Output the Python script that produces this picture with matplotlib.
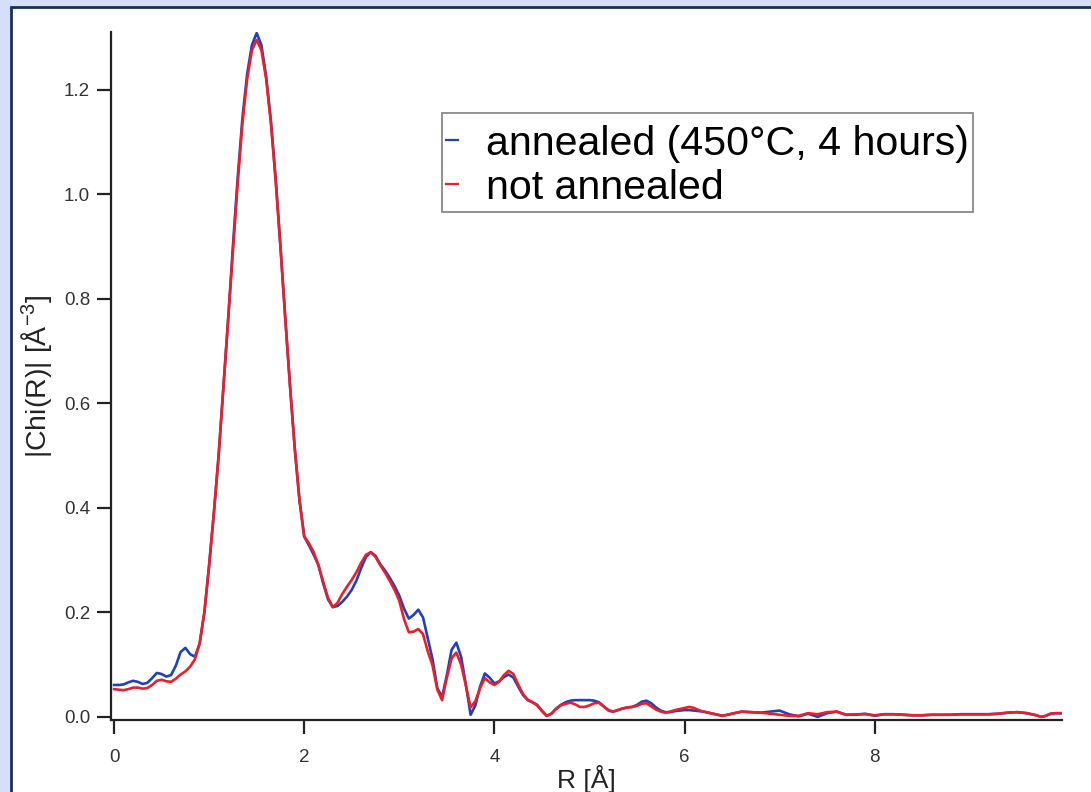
import matplotlib
matplotlib.use("Agg")
import matplotlib.pyplot as plt
from matplotlib.patches import Rectangle

# ---- data ----
R = [0.00, 0.05, 0.10, 0.15, 0.20, 0.25, 0.30, 0.35, 0.40, 0.45,
     0.50, 0.55, 0.60, 0.65, 0.70, 0.75, 0.80, 0.85, 0.90, 0.95,
     1.00, 1.05, 1.10, 1.15, 1.20, 1.25, 1.30, 1.35, 1.40, 1.45,
     1.50, 1.55, 1.60, 1.65, 1.70, 1.75, 1.80, 1.85, 1.90, 1.95,
     2.00, 2.05, 2.10, 2.15, 2.20, 2.25, 2.30, 2.35, 2.40, 2.45,
     2.50, 2.55, 2.60, 2.65, 2.70, 2.75, 2.80, 2.85, 2.90, 2.95,
     3.00, 3.05, 3.10, 3.15, 3.20, 3.25, 3.30, 3.35, 3.40, 3.45,
     3.50, 3.55, 3.60, 3.65, 3.70, 3.75, 3.80, 3.85, 3.90, 3.95,
     4.00, 4.05, 4.10, 4.15, 4.20, 4.25, 4.30, 4.35, 4.40, 4.45,
     4.50, 4.55, 4.60, 4.65, 4.70, 4.75, 4.80, 4.85, 4.90, 4.95,
     5.00, 5.05, 5.10, 5.15, 5.20, 5.25, 5.30, 5.35, 5.40, 5.45,
     5.50, 5.55, 5.60, 5.65, 5.70, 5.75, 5.80, 5.85, 5.90, 5.95,
     6.00, 6.05, 6.10, 6.15, 6.20, 6.30, 6.40, 6.50, 6.60, 6.70,
     6.80, 6.90, 7.00, 7.10, 7.20, 7.30, 7.40, 7.50, 7.60, 7.70,
     7.80, 7.90, 8.00, 8.10, 8.20, 8.30, 8.40, 8.50, 8.60, 8.70,
     8.80, 8.90, 9.00, 9.10, 9.20, 9.30, 9.40, 9.50, 9.60, 9.70,
     9.75, 9.80, 9.85, 9.90, 9.97]

annealed = [0.061, 0.061, 0.062, 0.066, 0.069, 0.067, 0.063, 0.065, 0.074, 0.084,
            0.082, 0.077, 0.080, 0.098, 0.124, 0.132, 0.120, 0.115, 0.140, 0.200,
            0.290, 0.390, 0.500, 0.630, 0.760, 0.900, 1.030, 1.145, 1.230, 1.285,
            1.308, 1.285, 1.225, 1.140, 1.030, 0.900, 0.765, 0.635, 0.515, 0.415,
            0.345, 0.328, 0.310, 0.290, 0.255, 0.225, 0.210, 0.212, 0.220, 0.230,
            0.243, 0.261, 0.285, 0.306, 0.315, 0.308, 0.292, 0.280, 0.266, 0.250,
            0.232, 0.207, 0.188, 0.195, 0.205, 0.190, 0.150, 0.110, 0.055, 0.038,
            0.080, 0.128, 0.142, 0.115, 0.062, 0.004, 0.022, 0.058, 0.083, 0.075,
            0.064, 0.068, 0.076, 0.081, 0.075, 0.058, 0.042, 0.032, 0.028, 0.023,
            0.012, 0.002, 0.006, 0.016, 0.023, 0.028, 0.031, 0.032, 0.032, 0.032,
            0.032, 0.031, 0.028, 0.020, 0.013, 0.010, 0.013, 0.016, 0.018, 0.019,
            0.023, 0.029, 0.031, 0.026, 0.018, 0.012, 0.009, 0.009, 0.011, 0.012,
            0.013, 0.013, 0.012, 0.011, 0.010, 0.006, 0.002, 0.006, 0.010, 0.009,
            0.008, 0.010, 0.012, 0.005, 0.001, 0.006, 0.000, 0.007, 0.010, 0.004,
            0.004, 0.006, 0.002, 0.005, 0.005, 0.004, 0.003, 0.003, 0.004, 0.004,
            0.004, 0.005, 0.005, 0.005, 0.005, 0.006, 0.008, 0.009, 0.007, 0.003,
            0.000, 0.002, 0.006, 0.007, 0.007]

not_annealed = [0.053, 0.052, 0.051, 0.053, 0.056, 0.056, 0.054, 0.055, 0.061, 0.069,
                0.071, 0.068, 0.067, 0.073, 0.081, 0.087, 0.096, 0.110, 0.140, 0.200,
                0.290, 0.390, 0.500, 0.630, 0.760, 0.890, 1.020, 1.135, 1.220, 1.275,
                1.295, 1.275, 1.220, 1.135, 1.025, 0.900, 0.765, 0.635, 0.515, 0.415,
                0.345, 0.332, 0.315, 0.290, 0.258, 0.228, 0.210, 0.218, 0.235, 0.249,
                0.262, 0.277, 0.295, 0.310, 0.315, 0.306, 0.290, 0.276, 0.260, 0.243,
                0.222, 0.187, 0.162, 0.163, 0.168, 0.158, 0.125, 0.098, 0.052, 0.032,
                0.075, 0.112, 0.123, 0.100, 0.060, 0.018, 0.030, 0.055, 0.074, 0.066,
                0.061, 0.067, 0.080, 0.088, 0.082, 0.062, 0.044, 0.033, 0.028, 0.022,
                0.011, 0.002, 0.006, 0.015, 0.022, 0.025, 0.027, 0.024, 0.019, 0.019,
                0.022, 0.026, 0.027, 0.020, 0.012, 0.010, 0.013, 0.016, 0.018, 0.019,
                0.021, 0.025, 0.026, 0.020, 0.014, 0.010, 0.008, 0.010, 0.013, 0.015,
                0.017, 0.019, 0.017, 0.013, 0.010, 0.006, 0.002, 0.006, 0.010, 0.009,
                0.008, 0.006, 0.004, 0.002, 0.002, 0.007, 0.005, 0.009, 0.010, 0.004,
                0.005, 0.005, 0.003, 0.005, 0.005, 0.004, 0.003, 0.003, 0.004, 0.004,
                0.004, 0.005, 0.005, 0.005, 0.005, 0.006, 0.008, 0.009, 0.007, 0.003,
                0.000, 0.002, 0.006, 0.007, 0.007]

labels = ["annealed (450°C, 4 hours)", "not annealed"]
xticks = [0, 2, 4, 6, 8]
yticks = [0.0, 0.2, 0.4, 0.6, 0.8, 1.0, 1.2]

# ---- style ----
plt.rcParams['font.family'] = ['Liberation Sans', 'DejaVu Sans']
plt.rcParams['mathtext.fontset'] = 'custom'
plt.rcParams['mathtext.rm'] = 'Liberation Sans'
plt.rcParams['mathtext.it'] = 'Liberation Sans'

W, H = 1091, 792
fig = plt.figure(figsize=(W / 100, H / 100), dpi=100)
fig.patch.set_facecolor('#d6dffa')
fig.patches.append(Rectangle((11 / W, -0.05), 1.2, 1 - 7 / H + 0.05,
                             transform=fig.transFigure, facecolor='white',
                             edgecolor='#1c2f55', linewidth=2.0, zorder=-5))

ax = fig.add_axes([111 / W, 1 - 720 / H, (1062 - 111) / W, (720 - 32) / H])
ax.set_facecolor('none')
ax.set_zorder(2)

ax.plot(R, annealed, color='#2040c0', lw=1.9, label=labels[0])
ax.plot(R, not_annealed, color='#e8202a', lw=1.9, label=labels[1])

ax.set_xlim(-0.032, 9.97)
ax.set_ylim(-0.006, 1.31)
ax.set_xticks(xticks)
ax.set_xticklabels([str(t) for t in xticks])
ax.set_yticks(yticks)
ax.set_yticklabels([f"{t:.1f}" for t in yticks])

for s in ['top', 'right']:
    ax.spines[s].set_visible(False)
for s in ['left', 'bottom']:
    ax.spines[s].set_linewidth(1.6)
    ax.spines[s].set_color('#222222')

ax.tick_params(axis='both', direction='out', length=10, width=1.6,
               color='#222222', labelcolor='#333333', labelsize=13.5)
ax.tick_params(axis='y', pad=5)
ax.tick_params(axis='x', pad=11)

ax.set_xlabel('R [Å]', fontsize=19, color='#222222')
ax.xaxis.set_label_coords(0.5, -0.066)
ax.set_ylabel('|Chi(R)| [Å$^{-3}$]', fontsize=20.5, color='#222222')
ax.yaxis.set_label_coords(-0.06, 0.5)

# legend frame drawn separately for exact padding
ax.add_patch(Rectangle((0.348, 0.7384), 0.9064 - 0.348, 0.8823 - 0.7384,
                       transform=ax.transAxes, facecolor='white',
                       edgecolor='#888888', linewidth=1.3, zorder=4))
leg = ax.legend(loc='upper left', bbox_to_anchor=(0.3523, 0.8650),
                borderaxespad=0, fontsize=29.6, handlelength=0.3,
                handletextpad=0.68, borderpad=0.0, labelspacing=0.14,
                frameon=False)
leg.set_zorder(5)
for h in leg.legend_handles:
    h.set_linewidth(1.6)

fig.savefig('out.png', dpi=100, facecolor=fig.get_facecolor())
